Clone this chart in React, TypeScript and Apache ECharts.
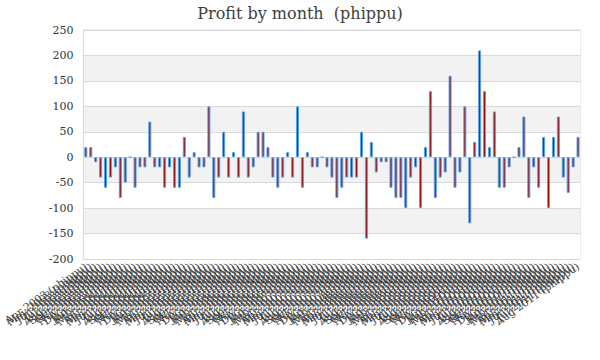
import React, { useEffect, useRef } from "react";
import * as echarts from "echarts";

const MONTHS = ["Jan", "Feb", "Mar", "Apr", "May", "Jun", "Jul", "Aug", "Sep", "Oct", "Nov", "Dec"];
const categories: string[] = [];
for (let i = 0; i < 101; i++) {
  const m = (i + 3) % 12;
  const y = 2003 + Math.floor((i + 3) / 12);
  categories.push(`${MONTHS[m]} ${y} (phippu)`);
}

const profit = [
  20, 20, -10, -40, -60, -40, -20, -80, -50, 0,
  -60, -20, -20, 70, -20, -20, -60, -20, -60, -60,
  40, -40, 10, -20, -20, 100, -80, -40, 50, -40,
  10, -40, 90, -40, -20, 50, 50, 20, -40, -60,
  -40, 10, -40, 100, -60, 10, -20, -20, 0, -20,
  -40, -80, -60, -40, -40, -40, 50, -160, 30, -30,
  -10, -10, -60, -80, -80, -100, -40, -20, -100, 20,
  130, -80, -40, -30, 160, -60, -30, 100, -130, 30,
  210, 130, 20, 90, -60, -60, -20, 0, 20, 80,
  -80, -20, -60, 40, -100, 40, 80, -40, -70, -20,
  40,
];

const yTicks = { min: -200, max: 250, interval: 50 };

export default function App() {
  const ref = useRef<HTMLDivElement>(null);
  useEffect(() => {
    if (!ref.current) return;
    const chart = echarts.init(ref.current, undefined, { renderer: "svg" });
    const serif = "DejaVu Serif";
    chart.setOption({
      animation: false,
      backgroundColor: "#ffffff",
      title: {
        text: "Profit by month  (phippu)",
        left: "center",
        top: 0,
        textStyle: { fontFamily: serif, fontSize: 16, fontWeight: "normal", color: "#404040" },
      },
      grid: {
        left: 80.5,
        right: 19.5,
        top: 30,
        bottom: 101,
        show: true,
        borderColor: "#d9d9d9",
        borderWidth: 1,
      },
      xAxis: {
        type: "category",
        data: categories,
        axisLine: { show: false },
        axisTick: { show: false },
        axisLabel: {
          interval: 0,
          rotate: 35,
          fontFamily: serif,
          fontSize: 10.5,
          color: "#404040",
          margin: 6,
        },
      },
      yAxis: {
        type: "value",
        min: yTicks.min,
        max: yTicks.max,
        interval: yTicks.interval,
        axisLine: { show: true, lineStyle: { color: "#d9d9d9" } },
        axisTick: { show: false },
        axisLabel: { fontFamily: serif, fontSize: 11, color: "#333333", margin: 10 },
        splitLine: { show: true, lineStyle: { color: "#d9d9d9" } },
        splitArea: { show: true, areaStyle: { color: ["#ffffff", "#f2f2f2"] } },
      },
      series: [
        {
          type: "bar",
          data: profit,
          barWidth: 3,
          itemStyle: { color: "#9b0f0f", borderColor: "#55a5ee", borderWidth: 1 },
        },
      ],
    });
    return () => chart.dispose();
  }, []);
  return <div ref={ref} style={{ position: "fixed", left: 0, top: 0, width: 600, height: 360 }} />;
}
